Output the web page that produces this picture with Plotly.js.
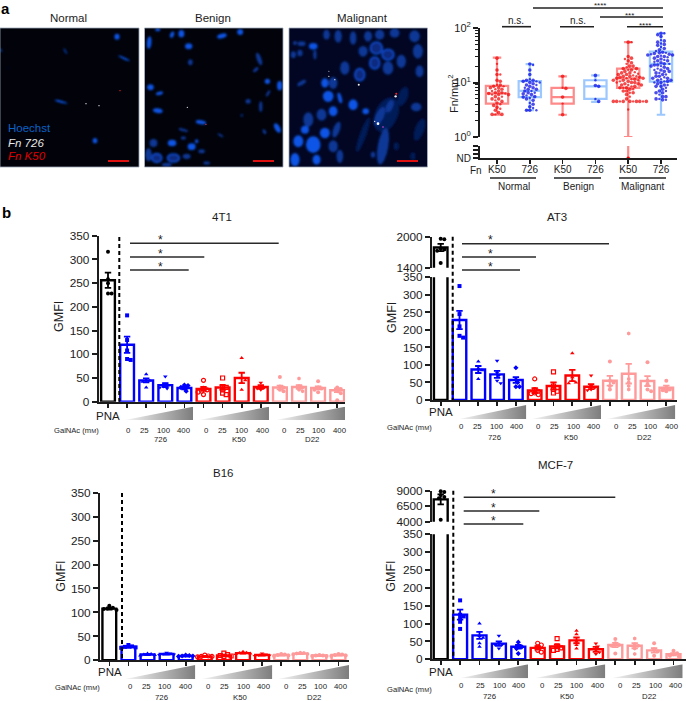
<!DOCTYPE html>
<html><head><meta charset="utf-8">
<script src="https://cdn.plot.ly/plotly-3.0.1.min.js"></script>
<style>html,body{margin:0;padding:0;background:#fff}#c{width:686px;height:701px}</style>
</head><body><div id="c"></div>
<script>
// ---------- DATA : panel a box plots ----------
const boxCats = ['K50','726','K50','726','K50','726'];
const boxGroups = ['Normal','Benign','Malignant'];
const boxQ1 = [4.1,5.4,4.1,5.0,8.0,10.4];
const boxMedian = [6.3,7.0,5.4,8.5,11.9,22];
const boxQ3 = [8.7,10.6,8.0,11,18,37];
const boxLow = [2.56,3.1,2.56,4.4,1,2.56];
const boxHigh = [28.5,21.8,13,13.5,55,80];
const ptsK50Normal = [28,22,17,14,14,11,10.5,9,9,8.5,8.5,8,8,7.5,7.5,7,7,6.5,6.5,6.3,6.3,6,6,6,5.5,5.5,5,5,4.7,4.5,4.2,4,3.8,3.5,3.3,3.1,2.8,2.6,2.6,2.6];
const pts726Normal = [21.8,21,17,14,11.5,11,11,10.5,10.5,10,10,9.5,9,9,8.5,8,8,7.5,7.5,7,7,6.5,6.5,6.2,6,5.8,5.5,5.4,5.2,5,4.7,4.2,4,3.6,3.4,3.1,3.1,3.1];
const ptsK50Benign = [13,8,7.8,5.4,4.1,2.56];
const pts726Benign = [13.5,11,8.8,8.5,5,4.5];
const ptsK50Malignant = [55,55,30,28,27,25,23,22,20,20,19,18,18,17,17,16,15.5,15,15,14.5,14,14,13.5,13,13,13,12.5,12.5,12,12,12,11.5,11.5,11,11,11,10.5,10.5,10,10,10,9.5,9.5,9,9,9,8.5,8.5,8,8,8,7.5,7.5,7,7,6.5,6.5,6,5.5,5,4.5,4.5,4.5,4.5,4.5,4.5,4.5,4.5,4.5,4.5,3.2];
const pts726Malignant = [80,80,75,70,60,58,55,52,50,48,45,42,40,38,36,35,35,34,33,33,32,32,31,30,30,29,28,27,26,25,25,24,23,22,22,21,21,20,20,19,18,18,17,17,16,16,15,15,14,14,13,13,12.5,12,12,11.5,11,11,10.5,10.5,10,10,9.5,9,9,8.5,8.5,8,7.5,7,7,6.5,6.5,6,5.5,5.5,5,5,4.8,4.8];

// ---------- DATA : panel b bars (PNA, 726 x4, K50 x4, D22 x4) ----------
const doseLabels = ['0','25','100','400'];
const strainLabels = ['726','K50','D22'];
const means4T1 = [256,120,45,35,29,27,30,50,31,30,31,29,24];
const errs4T1  = [16,17,4,4,3,4,5,11,4,4,4,3,4];
const pts4T1 = [[316,228,228,250,258],[182,130,90,88,108],[58,45,44,42,30],[53,38,35,32,30,28],[35,34,28,30,22],[45,28,25,22,20,15],[50,32,30,25,18,15],[92,50,45,40,25],[40,33,30,28,25],[52,32,30,25,22],[49,33,30,25,22],[43,30,28,25,20],[30,27,22,18,3]];
const meansAT3 = [1790,228,87,73,57,27,40,70,38,55,75,54,35];
const errsAT3  = [70,26,10,10,8,7,10,16,7,14,28,14,6];
const ptsAT3 = [[1950,1960,1750,1730,1770,1490],[325,245,210,183,178],[110,90,85,78,60],[112,78,70,55,48],[92,58,50,38,38],[60,30,25,20,18,15],[80,40,35,30,25,20],[133,65,55,50,48],[70,40,35,30,28],[110,55,50,40,30],[190,60,50,40,30],[108,55,45,30,25],[55,35,30,28,25]];
const meansB16 = [108,28,12,13,9,8,10,15,11,11,14,10,11];
const errsB16  = [2,2,1,1,1,1,1,1,1,1,1,1,1];
const ptsB16 = [[114,110,108,107,105],[32,29,28,27,26],[14,13,12,11,10],[16,14,13,12,11],[11,10,9,9,8],[11,9,8,8,7],[15,12,10,9,8],[18,16,15,14,13],[14,12,11,10,9],[13,12,11,10,9],[16,15,14,13,12],[11,10,10,9,9],[13,12,11,10,9]];
const meansMCF = [7600,125,67,44,35,32,36,53,28,40,38,25,14];
const errsMCF  = [800,14,10,6,5,5,5,8,7,6,7,6,3];
const ptsMCF = [[8800,8900,8300,8000,7800,4300],[165,125,120,115,105,85],[100,65,60,45,35],[66,45,42,40,30],[48,38,35,30,16],[45,40,35,25,20],[58,38,32,28,25],[80,70,50,40,30],[44,36,25,20,15],[57,45,40,38,16],[58,42,38,30,15],[45,28,22,10],[24,17,14,10,8]];
const barColors = ['#000000','#0000ff','#0000ff','#0000ff','#0000ff','#ff0000','#ff0000','#ff0000','#ff0000','#ff9a9a','#ff9a9a','#ff9a9a','#ff9a9a'];
const dotSymbols = ['circle','square','triangle-up','triangle-down','diamond','circle-open','square-open','triangle-up','triangle-down','circle','hexagon','circle','circle'];

// ---------- DATA : micrograph nuclei (cx,cy,rx,ry,angle,kind) 0 bright 1 dim 2 ring 3 haze ----------
const nucleiNormal = [[351,111,8,9,0],[196,155,3,10,-30,1],[372,176,3,19,-65],[183,306,3,20,-75],[285,423,7,8,0],[3,152,3,6,-30,1],[25,205,2,2,0,3]];
const spotsNormal = [[258,312,2,'#eee'],[297,318,2,'#eee'],[360,273,2,'#f22']];
const nucleiBenign = [[447,129,7,19,5],[473,90,8,5,0],[516,105,6,10,20],[544,102,9,11,0],[566,140,11,9,0],[666,109,15,7,-15],[721,97,9,9,0],[571,188,7,9,0,1],[778,178,7,20,-20,1],[768,210,5,10,50,1],[803,245,8,8,0],[840,258,8,14,0],[451,263,10,9,0],[478,281,5,11,75],[805,281,4,11,30,1],[745,305,8,7,0,1],[783,321,5,16,0,1],[473,333,15,7,10],[603,368,16,6,10],[726,347,3,5,0,1],[833,385,8,16,-30],[794,396,5,8,-30,1],[550,391,15,4,15,1],[662,407,10,3,30,1],[516,430,13,10,0],[460,430,12,12,0,1],[575,441,12,10,0],[590,425,5,6,0],[520,475,18,12,0,2],[470,475,15,13,0,2],[560,470,12,8,0,1],[605,455,10,6,0,1],[445,465,10,20,0,1],[550,415,8,5,0,1],[620,490,10,5,0,1],[500,495,15,6,0,1]];
const spotsBenign = [[562,323,2,'#eee'],[618,374,2,'#f33']];
const nucleiMalignant = [[1160,345,34,55,25,3],[1090,405,10,55,20,3],[1210,290,15,30,20,3],[1150,440,16,55,10,1],[1260,390,14,35,20,3],[1240,470,8,12,0,3],[1190,440,8,12,0,3],[1140,350,12,30,25,1],[1170,320,10,20,25,1],[940,140,13,10,0],[905,132,12,7,0,1],[885,130,6,6,0,1],[900,160,8,10,0,1],[880,165,8,10,0,1],[945,165,5,14,0,1],[1015,110,11,19,0,1],[980,105,10,15,0,1],[1060,115,10,20,0,1],[1105,110,12,16,0,1],[1140,105,14,15,0,1],[1185,100,15,14,0,1],[1245,110,16,18,0,1],[1130,145,18,18,0,2],[1090,155,14,16,0,1],[1165,165,18,16,0,2],[1125,190,15,18,0,2],[1080,225,15,18,0,2],[1165,205,16,20,0,1],[1205,185,14,20,0,1],[1255,155,15,22,0,1],[1260,215,12,18,0,1],[1035,205,14,20,0,1],[1000,250,13,18,0,1],[975,250,11,14,0],[905,250,15,6,-30,1],[985,290,16,17,0],[1060,315,14,16,0],[1020,295,6,16,-15],[1098,335,10,9,0],[1000,335,13,15,0],[1250,322,16,13,0,1],[965,345,15,18,0,1],[925,360,15,22,0,1],[975,400,15,16,0],[915,390,12,12,0],[940,435,22,25,0],[895,425,15,18,0],[885,480,14,20,0],[1010,390,10,25,20,1],[1000,440,14,18,0,1],[950,480,12,15,0],[1020,470,10,20,0,1],[1120,465,7,9,0,1]];
const spotsMalignant = [[987,215,1.5,'#eee'],[987,230,2,'#eee'],[1005,240,2,'#eee'],[1077,255,3,'#eee'],[1188,290,3.5,'#eee'],[1190,282,3,'#f22'],[1135,372,4,'#fff'],[1125,365,2,'#eee'],[1150,382,2.5,'#d4d']];

// ---------- helpers ----------
const W=686,H=701,FONT='"Liberation Sans",Arial,sans-serif',INK='#1c1c1c';
const fx=x=>x/W, fy=y=>1-y/H;
const traces=[],shapes=[],annotations=[],images=[];
const layout={width:W,height:H,margin:{l:0,r:0,t:0,b:0},paper_bgcolor:'#fff',plot_bgcolor:'rgba(0,0,0,0)',showlegend:false,
  barmode:'overlay',boxmode:'overlay',hovermode:false,font:{family:FONT,color:INK}};
let axN=0;
function axes(xl,xr,yt,yb,xo,yo){
  axN++; const sfx=axN===1?'':axN;
  layout['xaxis'+sfx]=Object.assign({domain:[fx(xl),fx(xr)],anchor:'y'+sfx,showgrid:false,zeroline:false,fixedrange:true},xo);
  layout['yaxis'+sfx]=Object.assign({domain:[fy(yb),fy(yt)],anchor:'x'+sfx,showgrid:false,zeroline:false,fixedrange:true},yo);
  return {x:'x'+sfx,y:'y'+sfx};
}
function txt(text,x,y,size,o){annotations.push(Object.assign({text,xref:'paper',yref:'paper',x:fx(x),y:fy(y),xanchor:'center',yanchor:'middle',showarrow:false,font:{size,family:FONT,color:INK}},o||{}));}
function hline(x0,x1,y,w,c){shapes.push({type:'line',xref:'paper',yref:'paper',x0:fx(x0),x1:fx(x1),y0:fy(y),y1:fy(y),line:{color:c||'#222',width:w||1.6}});}
const svgURI=s=>'data:image/svg+xml;base64,'+btoa(s);

// beeswarm offsets (pixels) for display values already in pixel space
function swarm(pix,d){
  const order=pix.map((p,i)=>i).sort((a,b)=>pix[a]-pix[b]);
  const placed=[],out=new Array(pix.length);
  order.forEach(i=>{
    let k=0,off=0;
    while(true){
      off=(k%2?1:-1)*Math.ceil(k/2)*d/2;
      if(placed.every(q=>Math.hypot(q[0]-off,q[1]-pix[i])>=d*0.92)) break;
      k++;
    }
    placed.push([off,pix[i]]); out[i]=off;
  });
  return out;
}

// ---------- micrographs ----------
function micrograph(nuc,spots,x0,px0,px1,bg){
  const size=417;
  let body='';
  nuc.forEach(([cx,cy,rx,ry,a,k])=>{
    const fill=k===3?'#061a58':k===1?'#0a3796':'#0a55e6';
    if(k===2) body+=`<ellipse cx="${cx}" cy="${cy}" rx="${rx}" ry="${ry}" fill="#082c7e" stroke="#0a4cd0" stroke-width="5"/>`;
    else body+=`<ellipse cx="${cx}" cy="${cy}" rx="${rx}" ry="${ry}" transform="rotate(${a||0} ${cx} ${cy})" fill="${fill}"/>`;
  });
  let sp='';
  spots.forEach(([cx,cy,r,c])=>{sp+=`<circle cx="${cx}" cy="${cy}" r="${r}" fill="${c}"/>`;});
  const svg=`<svg xmlns="http://www.w3.org/2000/svg" width="${size}" height="${size}" viewBox="${x0} 85 ${size} ${size}"><defs><filter id="b" x="-30%" y="-30%" width="160%" height="160%"><feGaussianBlur stdDeviation="3"/></filter><filter id="s" x="-100%" y="-100%" width="300%" height="300%"><feGaussianBlur stdDeviation="0.8"/></filter></defs><rect x="${x0}" y="85" width="${size}" height="${size}" fill="${bg}"/><g filter="url(#b)">${body}</g><g filter="url(#s)">${sp}</g></svg>`;
  images.push({source:svgURI(svg),xref:'paper',yref:'paper',x:fx(px0),y:fy(28),sizex:(px1-px0)/W,sizey:139/H,xanchor:'left',yanchor:'top',sizing:'stretch',layer:'below'});
  shapes.push({type:'rect',xref:'paper',yref:'paper',x0:fx(px0),x1:fx(px1),y0:fy(167),y1:fy(28),line:{color:'#9aa5b5',width:0.8}});
}
micrograph(nucleiNormal,spotsNormal,0,0,139,'#01020a');
micrograph(nucleiBenign,spotsBenign,433,144.5,283,'#01020a');
micrograph(nucleiMalignant,spotsMalignant,867,289,427.5,'#020622');
hline(108,129,161,2,'#e01010');hline(253,274,161,2,'#e01010');hline(397,418,161,2,'#e01010');
txt('<b>a</b>',5,8,14,{font:{size:15,family:FONT,color:'#000'}});
txt('<b>b</b>',6,212,14,{font:{size:15,family:FONT,color:'#000'}});
txt('Normal',68,18,11.5);txt('Benign',213,18,11.5);txt('Malignant',362,18,11.5);
txt('Hoechst',6,128,11.5,{xanchor:'left',font:{size:11.5,family:FONT,color:'#0a62c8'}});
txt('<i>Fn 726</i>',6,143,11.5,{xanchor:'left',font:{size:11.5,family:FONT,color:'#e8e8e8'}});
txt('<i>Fn K50</i>',6,156,11.5,{xanchor:'left',font:{size:11.5,family:FONT,color:'#e00000'}});

// ---------- log box panel ----------
(function(){
  const xl=480,xr=677,p0=497,step=32.8;
  const xr0=(xl-p0)/step,xr1=(xr-p0)/step;
  const up=axes(xl,xr,28,137,{range:[xr0,xr1],visible:false},
    {type:'log',range:[0,2],tickmode:'array',tickvals:[1,10,100],ticktext:['10<sup>0</sup>','10<sup>1</sup>','10<sup>2</sup>'],ticks:'outside',ticklen:5,tickwidth:2,tickcolor:INK,showline:true,linewidth:2,linecolor:INK,tickfont:{size:11,family:FONT,color:INK},
     minor:{ticks:'outside',ticklen:3,tickwidth:1,tickcolor:INK,tickmode:'array',tickvals:[2,3,4,5,6,7,8,9,20,30,40,50,60,70,80,90]}});
  const lo=axes(xl,xr,146,158.3,{range:[xr0,xr1],tickmode:'array',tickvals:[0,1,2,3,4,5],ticktext:boxCats,ticks:'outside',ticklen:4,tickwidth:1.5,tickcolor:INK,showline:true,linewidth:2,linecolor:INK,ticklabelstandoff:-3,tickfont:{size:10,family:FONT,color:INK}},
    {range:[0,1],tickmode:'array',tickvals:[0],ticktext:['ND'],ticks:'outside',ticklen:5,tickwidth:2,tickcolor:INK,showline:true,linewidth:2,linecolor:INK,tickfont:{size:10,family:FONT,color:INK},
     minor:{ticks:'outside',ticklen:5,tickwidth:2,tickcolor:INK,tickmode:'array',tickvals:[0.35,0.7,1]}});
  [[ [0,2,4],'#ff8a8a' ],[ [1,3,5],'#9cc8ff' ]].forEach(([idx,col])=>{
    traces.push({type:'box',xaxis:up.x,yaxis:up.y,x:idx,q1:idx.map(i=>boxQ1[i]),median:idx.map(i=>boxMedian[i]),q3:idx.map(i=>boxQ3[i]),lowerfence:idx.map(i=>boxLow[i]),upperfence:idx.map(i=>boxHigh[i]),
      width:0.68,whiskerwidth:0.38,boxpoints:false,fillcolor:'rgba(0,0,0,0)',line:{color:col,width:2.2}});
  });
  const groups=[ptsK50Normal,pts726Normal,ptsK50Benign,pts726Benign,ptsK50Malignant,pts726Malignant];
  groups.forEach((g,i)=>{
    const off=swarm(g.map(v=>-54.5*Math.log10(v)),3.3);
    const col=i%2?'#0000e6':'#f00000';
    traces.push({type:'scatter',mode:'markers',xaxis:up.x,yaxis:up.y,x:g.map((v,j)=>i+off[j]/step),y:g,cliponaxis:false,marker:{color:col,size:g.map((v,j)=>j%3===1?2.4:3.6),symbol:'circle',line:{width:0}}});
  });
  traces.push({type:'scatter',mode:'lines',xaxis:lo.x,yaxis:lo.y,x:[4,4],y:[0,1],line:{color:'#ff8a8a',width:2.2}});
  traces.push({type:'scatter',mode:'markers',xaxis:lo.x,yaxis:lo.y,x:[4],y:[0],cliponaxis:false,marker:{color:'#f00000',size:3.6}});
  txt('Fn/mm<sup>2</sup>',453,94,11,{textangle:-90});
  txt('Fn',476,170,10);
  hline(490,536,178,1.5);hline(554,601,178,1.5);hline(619,666,178,1.5);
  txt(boxGroups[0],514,186.5,10);txt(boxGroups[1],578,186.5,10);txt(boxGroups[2],643,186.5,10);
  hline(533,663,8);txt('****',600,6,8);
  hline(600,663,17);txt('***',629,15.5,8);
  hline(627,663,26.7);txt('****',645,25,8);
  hline(502,531,26.7);txt('n.s.',516,20,10);
  hline(560,594,26.7);txt('n.s.',578,20,10);
})();

// ---------- bar panels ----------
function barPanel(c){
  const rangeX=[(c.xAxis-c.p0)/c.step,(c.xEnd-c.p0)/c.step];
  const tickY={ticks:'outside',ticklen:5,tickwidth:2,tickcolor:INK,showline:true,linewidth:2,linecolor:INK,tickfont:{size:11.8,family:FONT,color:INK}};
  const lo=axes(c.xAxis,c.xEnd,c.y350,c.y0,{range:rangeX,tickmode:'array',tickvals:c.means.map((m,i)=>i),showticklabels:false,ticks:'outside',ticklen:4,tickwidth:1.6,tickcolor:INK,showline:true,linewidth:2,linecolor:INK},
    Object.assign({range:[0,350],tickmode:'array',tickvals:[0,50,100,150,200,250,300,350]},tickY));
  let up=null;
  if(c.upper){
    up=axes(c.xAxis,c.xEnd,c.upper.yt,c.upper.yb,{range:rangeX,visible:false},
      Object.assign({range:c.upper.range,tickmode:'array',tickvals:c.upper.ticks},tickY));
  }
  const sets=[{idx:[0],col:barColors[0]},{idx:[1,2,3,4],col:barColors[1]},{idx:[5,6,7,8],col:barColors[5]},{idx:[9,10,11,12],col:barColors[9]}];
  sets.forEach(s=>{
    const drawTo=(ax,idx,err)=>traces.push({type:'bar',xaxis:ax.x,yaxis:ax.y,x:idx,y:idx.map(i=>c.means[i]),width:0.72,
      marker:{color:'#fff',line:{color:s.col,width:2.4}},
      error_y:{type:'data',visible:err,array:idx.map(i=>c.errs[i]),color:s.col,thickness:1.8,width:3.2}});
    if(s.idx[0]===0&&up){drawTo(lo,s.idx,false);drawTo(up,s.idx,true);}
    else drawTo(lo,s.idx,true);
  });
  // replicates
  c.pts.forEach((vals,i)=>{
    const ax=(i===0&&up)?up:lo;
    const [r0,r1]=(i===0&&up)?c.upper.range:[0,350];
    const pxPer=((i===0&&up)?(c.upper.yb-c.upper.yt):(c.y0-c.y350))/(r1-r0);
    const off=swarm(vals.map(v=>-v*pxPer),3.6);
    traces.push({type:'scatter',mode:'markers',xaxis:ax.x,yaxis:ax.y,x:vals.map((v,j)=>i+off[j]/c.step),y:vals,cliponaxis:false,
      marker:{color:barColors[i],symbol:dotSymbols[i],size:4,line:{color:barColors[i],width:dotSymbols[i].endsWith('open')?1.2:0}}});
  });
  // dashed divider
  shapes.push({type:'line',xref:'paper',yref:'paper',x0:fx(c.dash),x1:fx(c.dash),y0:fy(c.dashTop),y1:fy(c.y0),line:{color:'#000',width:2,dash:'4px,3px'}});
  // significance
  (c.sig||[]).forEach(([y,x1])=>{hline(c.sigX,x1,y,1.6,'#2a2a2a');txt('*',c.starX,y-3.2,12);});
  // wedges
  c.wedges.forEach(([a,b],k)=>{
    const w=b-a,h=c.wedgeBot-c.wedgeTop;
    const svg=`<svg xmlns="http://www.w3.org/2000/svg" width="${w*3}" height="${h*3}" viewBox="0 0 ${w} ${h}"><defs><linearGradient id="g"><stop offset="0" stop-color="#f6f6f6"/><stop offset="1" stop-color="#7d7d7d"/></linearGradient></defs><polygon points="0,${h} ${w},0 ${w},${h}" fill="url(#g)"/></svg>`;
    images.push({source:svgURI(svg),xref:'paper',yref:'paper',x:fx(a),y:fy(c.wedgeTop),sizex:w/W,sizey:h/H,xanchor:'left',yanchor:'top',sizing:'stretch',layer:'above'});
  });
  txt(c.title,c.titleX,c.titleY,11.5);
  txt('GMFI',c.gmfi[0],c.gmfi[1],12.5,{textangle:-90});
  txt('PNA',c.pna[0],c.pna[1],11.5);
  txt('GalNAc (m<span style="font-size:6px">M</span>)',c.gal[0],c.gal[1],7.6);
  c.doses.forEach((x,i)=>txt(doseLabels[i%4],x,c.doseY,7.8));
  c.strainX.forEach((x,i)=>txt(strainLabels[i],x,c.strainY,7.8));
}

barPanel({title:'4T1',titleX:222,titleY:216.7,means:means4T1,errs:errs4T1,pts:pts4T1,
  xAxis:98.7,xEnd:345,p0:108,step:19.1,y0:401.7,y350:235.7,dash:119.3,dashTop:237,
  sigX:130,starX:160.7,sig:[[243.3,278.7],[257,204.3],[270,188.7]],
  wedges:[[125,193],[199,269],[276,345]],wedgeTop:406.7,wedgeBot:420,
  gmfi:[58.3,316.7],pna:[108,416],gal:[76,430.7],doseY:430.7,
  doses:[128,144,163.5,184,206.7,222.7,242,262.7,284,300,319,340],strainX:[160,239,312],strainY:439.5});
barPanel({title:'AT3',titleX:557.3,titleY:216.7,means:meansAT3,errs:errsAT3,pts:ptsAT3,
  xAxis:432,xEnd:677,p0:440.7,step:18.8,y0:400,y350:277.3,dash:452.7,dashTop:236.7,
  upper:{yt:236.7,yb:267.7,range:[1400,2000],ticks:[1400,2000]},
  sigX:462,starX:490.3,sig:[[243.7,609],[257,536],[270,520]],
  wedges:[[459.3,526.3],[531.7,601],[606.7,675.3]],wedgeTop:405,wedgeBot:419,
  gmfi:[392,318],pna:[440.7,411.7],gal:[409.3,427],doseY:426,
  doses:[461.3,477.7,496.7,517.3,538.7,554.7,573.7,594.3,616,632,651,671.7],strainX:[494.7,571,643.7],strainY:437.7});
barPanel({title:'B16',titleX:223.3,titleY:472.7,means:meansB16,errs:errsB16,pts:ptsB16,
  xAxis:100,xEnd:349,p0:109.3,step:19.1,y0:660.3,y350:492.7,dash:122,dashTop:493,
  wedges:[[125,195.3],[201.7,272.3],[278,349]],wedgeTop:665,wedgeBot:679,
  gmfi:[61,576.7],pna:[110,671.7],gal:[77.3,687],doseY:686.7,
  doses:[130.3,146,165.3,186,208.7,224.3,243.7,264.3,286,302,321,341],strainX:[161.7,241,314],strainY:697});
barPanel({title:'MCF-7',titleX:555,titleY:465,means:meansMCF,errs:errsMCF,pts:ptsMCF,
  xAxis:432,xEnd:686,p0:440.7,step:19.4,y0:659.3,y350:534.3,dash:453.3,dashTop:490.7,
  upper:{yt:490.7,yb:521.7,range:[4000,9000],ticks:[4000,6500,9000]},
  sigX:463.7,starX:493,sig:[[497.3,615.3],[511,539.3],[524,523.3]],
  wedges:[[459.3,528],[534.3,605.3],[611,682.7]],wedgeTop:664.3,wedgeBot:678.3,
  gmfi:[391,576.7],pna:[441,671.7],gal:[409.3,689],doseY:685.7,
  doses:[461.3,480.3,500,519.3,542.7,558.3,577.3,598.3,620.7,636.7,655.7,676.3],strainX:[489.3,567.7,648.7],strainY:696.7});

layout.shapes=shapes;layout.annotations=annotations;layout.images=images;
Plotly.newPlot('c',traces,layout,{displayModeBar:false,staticPlot:true});
</script></body></html>
